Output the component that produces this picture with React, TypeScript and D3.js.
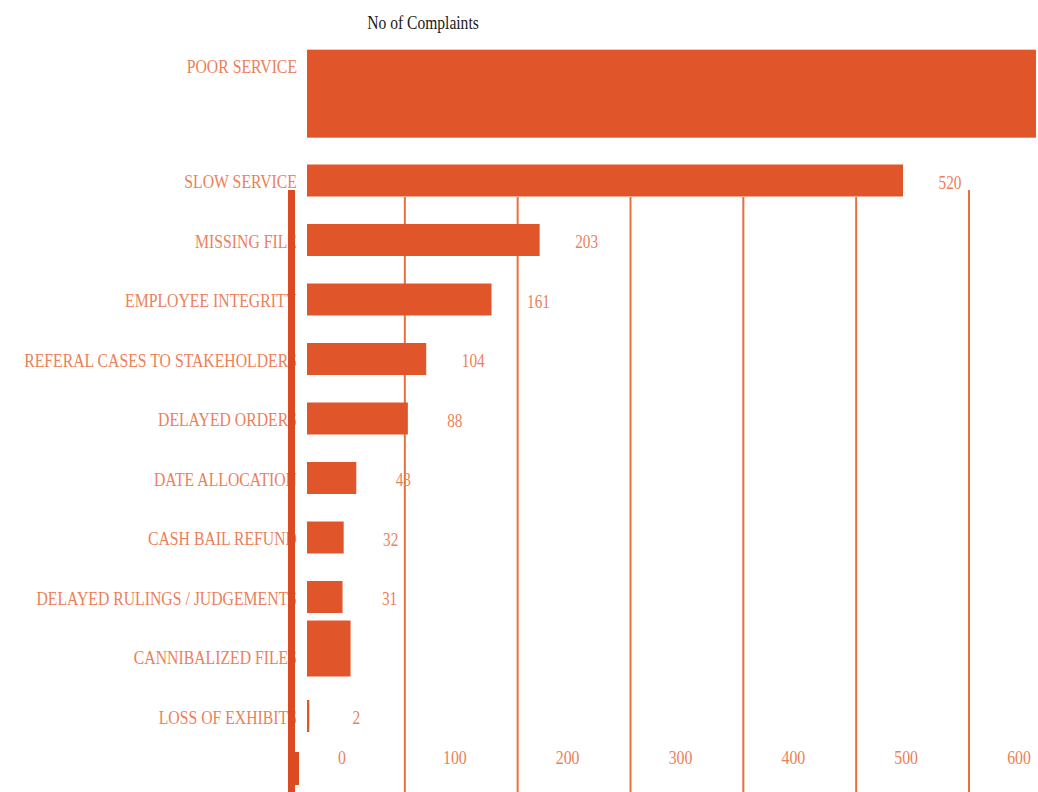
import React from "react";
import * as d3 from "d3";

const categories = [
  "POOR SERVICE",
  "SLOW SERVICE",
  "MISSING FILE",
  "EMPLOYEE INTEGRITY",
  "REFERAL CASES TO STAKEHOLDERS",
  "DELAYED ORDERS",
  "DATE ALLOCATION",
  "CASH BAIL REFUND",
  "DELAYED RULINGS / JUDGEMENTS",
  "CANNIBALIZED FILES",
  "LOSS OF EXHIBITS",
];
const complaints = [636, 520, 203, 161, 104, 88, 43, 32, 31, 38, 2];
const valueLabels = [null, "520", "203", "161", "104", "88", "43", "32", "31", null, "2"];
const xTicks = [0, 100, 200, 300, 400, 500, 600];
const title = "No of Complaints";

const W = 1038;
const H = 792;
const BAR = "#E0562A";
const TEXT = "#EC8059";
const GRID = "#E8703F";
const AXIS = "#DC4A22";
const FONT = "'Liberation Serif', 'Times New Roman', serif";

const gridX = d3.scaleLinear().domain([0, 600]).range([292, 969]);
const barX = d3.scaleLinear().domain([0, 520]).range([307, 903]);
const rowY = d3.scaleLinear().domain([1, 10]).range([181.5, 717]);
const slot = (i: number) => (i === 0 ? -0.93 : i);

const barShape: Record<string, { dy: number; h: number }> = {
  "POOR SERVICE": { dy: -17, h: 88 },
  "CANNIBALIZED FILES": { dy: -37, h: 56 },
};

export default function App() {
  const gridTop = 197;
  return (
    <svg
      width={W}
      height={H}
      style={{ position: "absolute", left: 0, top: 0, background: "#fff" }}
      fontFamily={FONT}
    >
      <defs>
        <clipPath id="plotClip">
          <rect x={0} y={0} width={W} height={H} />
        </clipPath>
      </defs>

      <text
        transform={`translate(423,22) scale(0.82,1)`}
        textAnchor="middle"
        dy="0.35em"
        fontSize={19}
        fill="#1a1a1a"
      >
        {title}
      </text>

      {xTicks.slice(1).map((t) => (
        <line
          key={"g" + t}
          x1={gridX(t)}
          x2={gridX(t)}
          y1={t === 600 ? 190 : gridTop}
          y2={H}
          stroke={GRID}
          strokeWidth={2}
        />
      ))}

      <g clipPath="url(#plotClip)">
        {categories.map((c, i) => {
          const cy = rowY(slot(i));
          const s = barShape[c] || { dy: -17, h: 32 };
          return (
            <rect
              key={c}
              x={barX(0)}
              y={cy + s.dy}
              width={Math.max(0, barX(complaints[i]) - barX(0))}
              height={s.h}
              fill={BAR}
            />
          );
        })}
      </g>

      {categories.map((c, i) => (
        <text
          key={"l" + c}
          transform={`translate(297,${rowY(slot(i))}) scale(0.83,1)`}
          textAnchor="end"
          dy="0.35em"
          fontSize={19}
          fill={TEXT}
        >
          {c}
        </text>
      ))}

      {categories.map((c, i) =>
        valueLabels[i] ? (
          <text
            key={"v" + c}
            transform={`translate(${barX(complaints[i]) + 47},${rowY(slot(i)) + 1}) scale(0.85,1)`}
            textAnchor="middle"
            dy="0.35em"
            fontSize={18}
            fill={TEXT}
          >
            {valueLabels[i]}
          </text>
        ) : null
      )}

      <rect x={288} y={190} width={7} height={H - 190} fill={AXIS} />
      <rect x={290} y={752} width={9} height={33} fill={AXIS} />

      {xTicks.map((t) => (
        <text
          key={"t" + t}
          transform={`translate(${gridX(t) + 50},758) scale(0.88,1)`}
          textAnchor="middle"
          dy="0.35em"
          fontSize={18}
          fill={TEXT}
        >
          {t}
        </text>
      ))}
    </svg>
  );
}
